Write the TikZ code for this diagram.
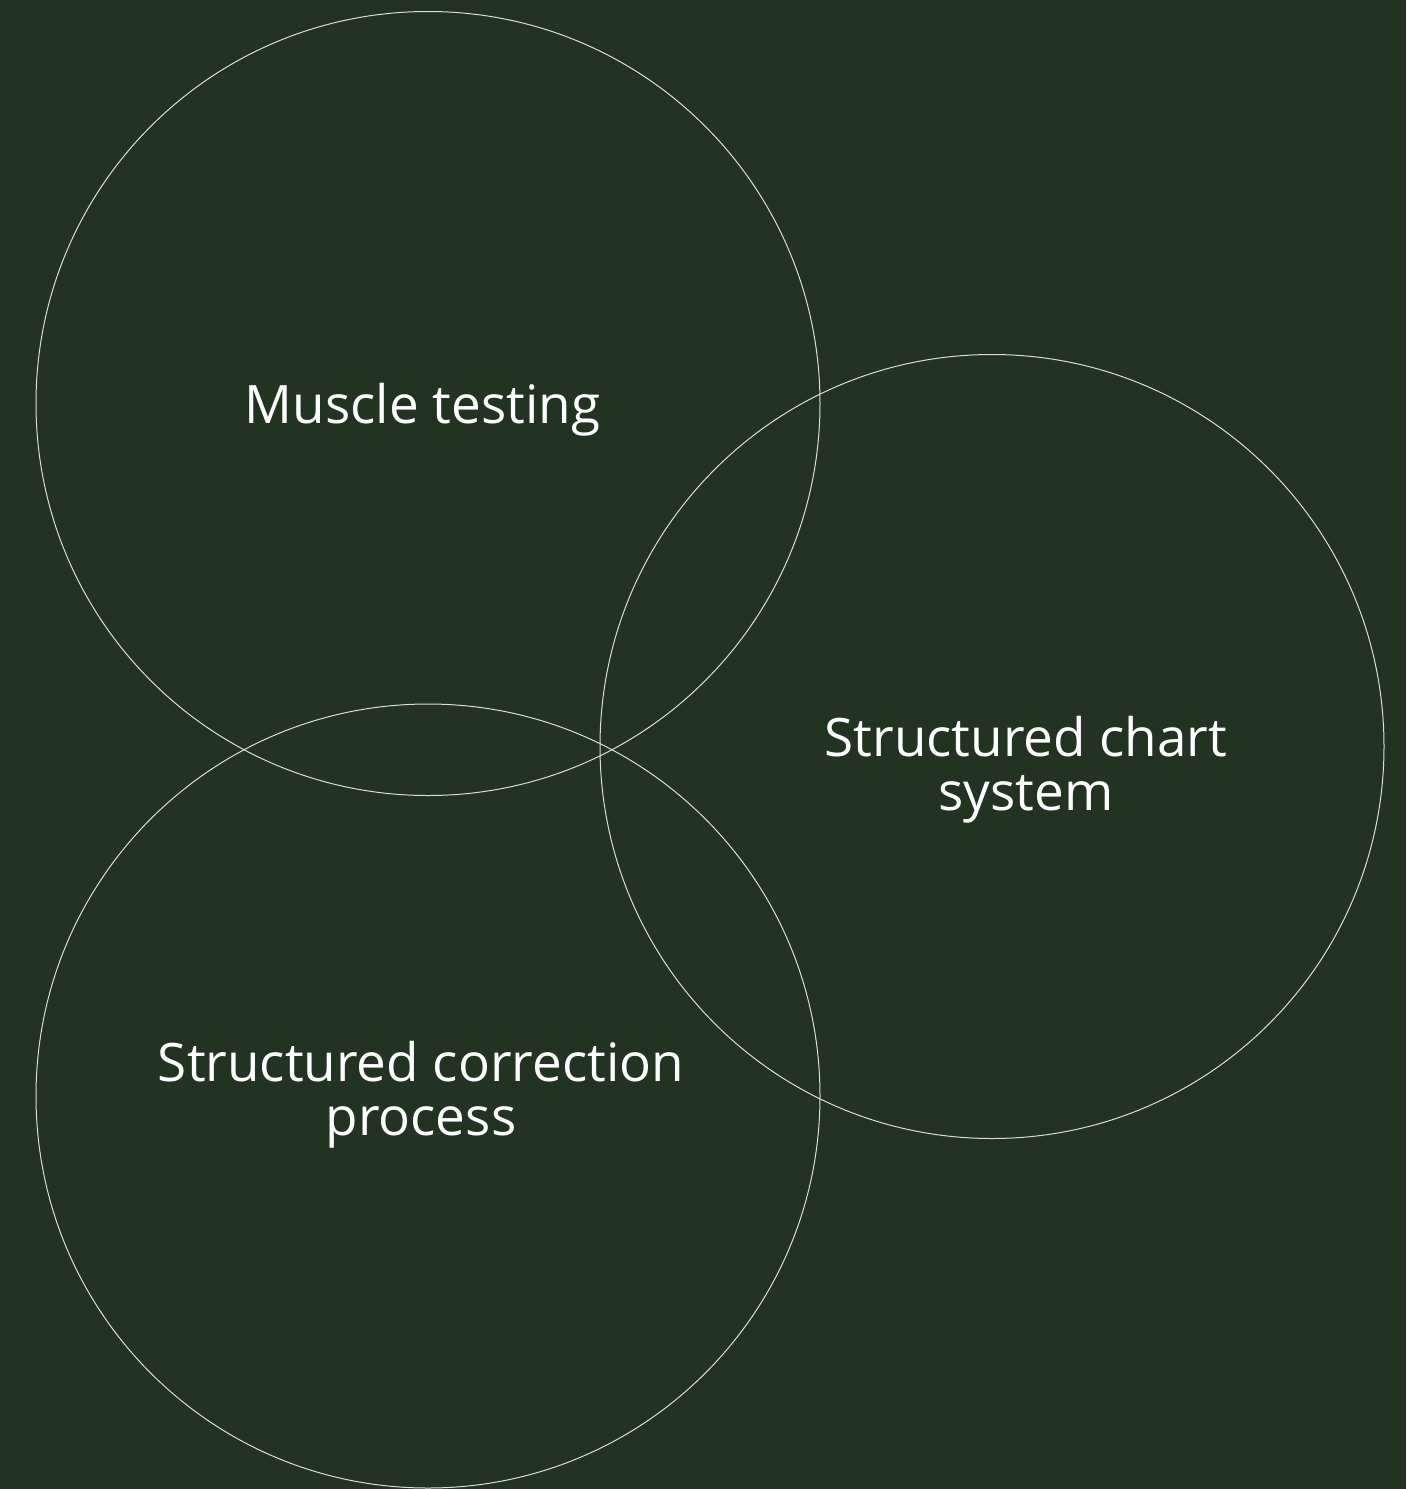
\documentclass[tikz,border=0pt]{standalone}
\usepackage{xcolor}
\usepackage{fontspec}
\setmainfont{Open Sans}
\usepackage{tikz}
\usetikzlibrary{positioning,calc}
\definecolor{bgGreen}{HTML}{223322}
\definecolor{ringLine}{HTML}{DCDFCF}
\tikzset{
    ring/.style={circle, draw=ringLine, line width=1pt, minimum size=784pt, inner sep=0pt},
    ringlabel/.style={text=white, font=\fontsize{53}{54}\selectfont, align=center, inner sep=0pt}
}

\begin{document}
\begin{tikzpicture}[x=1pt, y=-1pt]
    % Background
    \fill[bgGreen] (0,0) rectangle (1406,1489);
    \useasboundingbox (0,0) rectangle (1406,1489);

    % Three overlapping circles
    \node[ring] (muscle) at (428,403.5) {};
    \node[ring] (chart) at (992,746.5) {};
    \node[ring] (correction) at (428,1096) {};

    % Labels
    \node[ringlabel] (muscleText) at (422.5,410) {Muscle testing};
    \node[ringlabel] (chartText) at (1026,770) {Structured chart\\system};
    \node[ringlabel] (correctionText) at (421,1095) {Structured correction\\process};
\end{tikzpicture}
\end{document}
